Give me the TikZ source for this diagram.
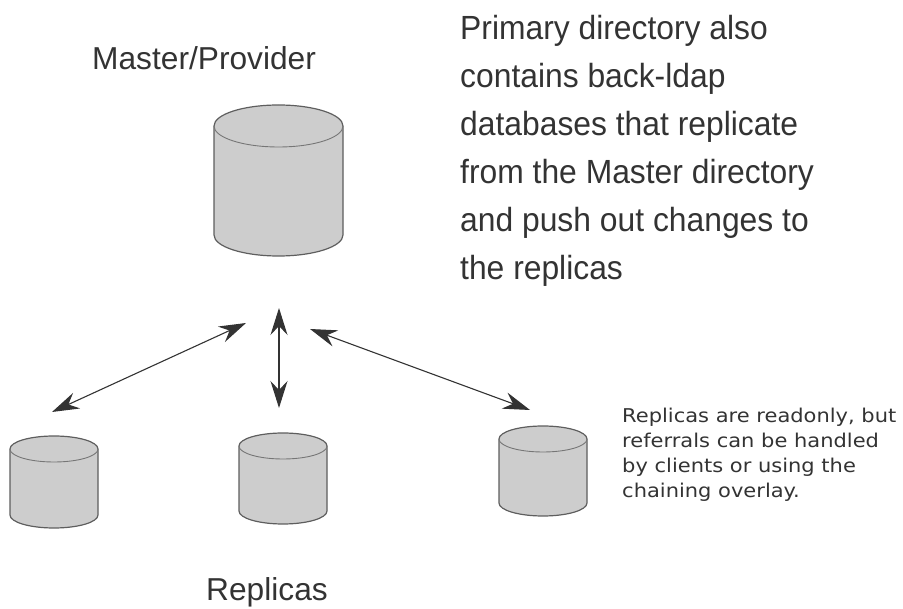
\documentclass[tikz,border=0pt]{standalone}
\usepackage{fontspec}
\setmainfont{Liberation Sans}
\newfontfamily\bigfont[FakeStretch=0.95]{Liberation Sans}
\newfontfamily\smallfont[FakeStretch=1.105]{DejaVu Sans}
\usetikzlibrary{arrows.meta}
\definecolor{cylfill}{HTML}{CDCDCD}
\definecolor{cylline}{HTML}{5E5E5E}
\tikzset{
  x=1pt,y=-1pt,
  cylbody/.style={fill=cylfill,draw=cylline,line width=1.2pt},
  cylrim/.style={draw=cylline!85!white,line width=0.9pt},
  dblarrow/.style={draw=black!80,line width=1.1pt,{Stealth[length=27pt,width=17pt,inset=9pt]}-{Stealth[length=27pt,width=17pt,inset=9pt]}},
  label/.style={inner sep=0pt,anchor=base west,text=black!80},
  bigtext/.style={inner sep=0pt,anchor=north west,align=left,text=black!80,font=\bigfont\fontsize{33.5}{48}\selectfont},
  smalltext/.style={inner sep=0pt,anchor=north west,align=left,text=black!80,font=\smallfont\fontsize{19}{25}\selectfont},
}
% left x, top ellipse centre y, width, ellipse half height, side height
\newcommand{\dbcyl}[5]{%
  \path[cylbody] (#1,#2) -- ++(0,#5) arc[start angle=180,end angle=360,x radius=#3/2,y radius=-#4]
     -- ++(0,-#5) arc[start angle=0,end angle=180,x radius=#3/2,y radius=-#4] -- cycle;
  \path[cylrim] (#1,#2) arc[start angle=180,end angle=360,x radius=#3/2,y radius=-#4];
}
\begin{document}
\begin{tikzpicture}
\useasboundingbox (0,0) rectangle (903,609);
\dbcyl{214}{126}{129}{21}{109}
\dbcyl{10}{449}{88}{13}{66}
\dbcyl{239}{446}{88}{13}{65}
\dbcyl{499}{439}{88}{13}{64}
\coordinate (a1s) at (52,412);
\coordinate (a1e) at (246,323);
\coordinate (a2s) at (279,308);
\coordinate (a2e) at (279,408);
\coordinate (a3s) at (310,329);
\coordinate (a3e) at (530,410);
\draw[dblarrow] (a1s) -- (a1e);
\draw[dblarrow] (a2s) -- (a2e);
\draw[dblarrow] (a3s) -- (a3e);
\node[label,font=\fontsize{31.7}{38}\selectfont] (master) at (92,70) {Master/Provider};
\node[label,font=\fontsize{31.7}{38}\selectfont] (replicas) at (206,601) {Replicas};
\node[bigtext] (primary) at (460,15) {Primary directory also\\contains back-ldap\\databases that replicate\\from the Master directory\\and push out changes to\\the replicas};
\node[smalltext] (note) at (622,408) {Replicas are readonly, but\\referrals can be handled\\by clients or using the\\chaining overlay.};
\end{tikzpicture}
\end{document}
